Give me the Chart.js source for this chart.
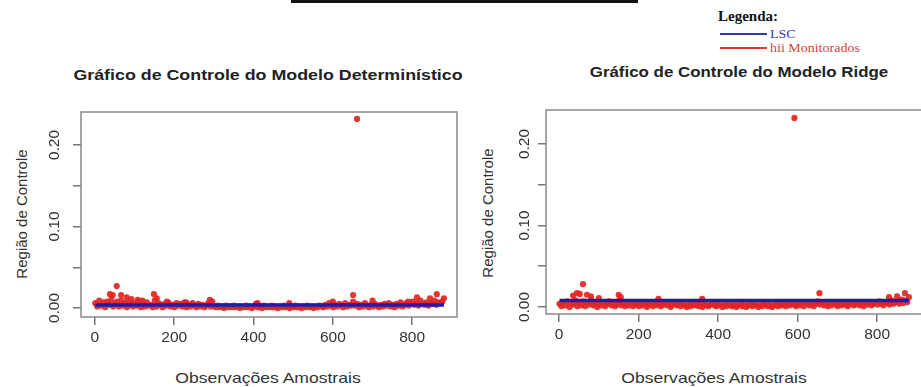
<!DOCTYPE html>
<html>
<head>
<meta charset="utf-8">
<script src="https://cdn.jsdelivr.net/npm/chart.js@4/dist/chart.umd.min.js"></script>
<style>
  body { margin: 0; width: 921px; height: 387px; overflow: hidden; background: #fff; position: relative; font-family: "Liberation Sans", Arial, sans-serif; }
  canvas { position: absolute; top: 0; }
  .txt { position: absolute; white-space: nowrap; color: #222; }
  .title { font-weight: bold; font-size: 15.5px; line-height: 16px; transform: translateX(-50%) scaleX(1.15); }
  .title.narrow { transform: translateX(-50%) scaleX(1.09); }
  .xlab { font-size: 15px; line-height: 16px; transform: translate(-50%, -50%) scaleX(1.17); color: #333; }
  .ylab { font-size: 15px; line-height: 16px; transform: translate(-50%, -50%) rotate(-90deg); color: #333; }
  #topbar { position: absolute; left: 291px; top: 0; width: 347px; height: 3px; background: #111; }
  .lg { position: absolute; white-space: nowrap; font-family: "Liberation Serif", "Times New Roman", serif; }
  .lg.head { left: 718px; top: 8px; font-weight: bold; font-size: 15px; color: #111; }
  .lg.ln { left: 720px; width: 47px; height: 2px; }
  .lg.tx { left: 770px; font-size: 12.5px; line-height: 12px; transform-origin: left center; transform: scaleX(1.12); }
</style>
</head>
<body>
<div id="topbar"></div>
<div class="lg head">Legenda:</div>
<div class="lg ln" style="top:33px; background:#3535c0"></div>
<div class="lg tx" style="top:28px; color:#3b3bb0">LSC</div>
<div class="lg ln" style="top:47px; background:#d83a3a"></div>
<div class="lg tx" style="top:42px; color:#d04545">hii Monitorados</div>

<div class="txt title" style="left:268px; top:67px">Gráfico de Controle do Modelo Determinístico</div>
<div class="txt title narrow" style="left:739px; top:64px">Gráfico de Controle do Modelo Ridge</div>
<div class="txt ylab" style="left:22px; top:214px">Região de Controle</div>
<div class="txt ylab" style="left:488px; top:213px">Região de Controle</div>
<div class="txt xlab" style="left:268px; top:378px">Observações Amostrais</div>
<div class="txt xlab" style="left:714px; top:378px">Observações Amostrais</div>

<canvas id="chartDet" width="470" height="387" style="left:0px"></canvas>
<canvas id="chartRidge" width="466" height="387" style="left:466px"></canvas>

<script>
// observations 1, 6, 11, ... 876 (every 5th) for the dense band
const bandStep = 5;

// hii, modelo deterministico
const detBandHii = [
  0.006, 0.002, 0.009, 0.003, 0.007, 0.001, 0.008, 0.004, 0.010, 0.002,
  0.005, 0.008, 0.002, 0.009, 0.003, 0.006, 0.001, 0.007, 0.004, 0.002,
  0.006, 0.003, 0.008, 0.001, 0.005, 0.002, 0.007, 0.003, 0.004, 0.001,
  0.009, 0.002, 0.006, 0.004, 0.001, 0.005, 0.003, 0.006, 0.002, 0.004,
  0.001, 0.006, 0.003, 0.005, 0.002, 0.007, 0.001, 0.004, 0.002, 0.006,
  0.003, 0.001, 0.005, 0.002, 0.004, 0.001, 0.003, 0.006, 0.002, 0.008,
  0.002, 0.001, 0.003, 0.001, 0.002, 0.000, 0.003, 0.001, 0.002, 0.001,
  0.003, 0.001, 0.002, 0.000, 0.002, 0.001, 0.003, 0.001, 0.002, 0.000,
  0.002, 0.005, 0.001, 0.002, 0.000, 0.003, 0.001, 0.002, 0.001, 0.003,
  0.001, 0.002, 0.000, 0.002, 0.001, 0.003, 0.001, 0.002, 0.000, 0.002,
  0.001, 0.003, 0.001, 0.002, 0.000, 0.002, 0.001, 0.003, 0.001, 0.002,
  0.000, 0.002, 0.001, 0.003, 0.002, 0.001, 0.004, 0.002, 0.006, 0.003,
  0.001, 0.004, 0.002, 0.005, 0.003, 0.001, 0.006, 0.002, 0.004, 0.003,
  0.008, 0.003, 0.005, 0.001, 0.004, 0.002, 0.006, 0.003, 0.001, 0.004,
  0.002, 0.005, 0.003, 0.001, 0.004, 0.002, 0.005, 0.003, 0.006, 0.002,
  0.004, 0.001, 0.005, 0.003, 0.007, 0.002, 0.004, 0.006, 0.003, 0.005,
  0.008, 0.004, 0.006, 0.003, 0.009, 0.005, 0.004, 0.007, 0.003, 0.006,
  0.005, 0.009, 0.004, 0.007, 0.006, 0.008
];
const detSpikeObs = [38, 45, 55, 66, 80, 92, 108, 120, 149, 156, 182, 230, 290, 410, 490, 600, 651, 661, 700, 790, 812, 845, 862, 880];
const detSpikeHii = [0.017, 0.016, 0.027, 0.016, 0.013, 0.011, 0.010, 0.009, 0.017, 0.012, 0.008, 0.007, 0.010, 0.006, 0.006, 0.008, 0.016, 0.232, 0.009, 0.008, 0.013, 0.012, 0.017, 0.012];
const detLSC = 0.0037;

// hii, modelo ridge
const ridgeBandHii = [
  0.004, 0.001, 0.006, 0.002, 0.007, 0.000, 0.005, 0.003, 0.008, 0.001,
  0.006, 0.002, 0.007, 0.001, 0.005, 0.003, 0.008, 0.002, 0.004, 0.000,
  0.005, 0.002, 0.006, 0.001, 0.004, 0.007, 0.002, 0.005, 0.001, 0.003,
  0.008, 0.002, 0.005, 0.001, 0.004, 0.002, 0.006, 0.001, 0.003, 0.005,
  0.001, 0.004, 0.002, 0.006, 0.000, 0.003, 0.005, 0.001, 0.004, 0.002,
  0.005, 0.001, 0.003, 0.006, 0.002, 0.004, 0.000, 0.003, 0.005, 0.002,
  0.003, 0.001, 0.004, 0.002, 0.000, 0.003, 0.001, 0.004, 0.002, 0.005,
  0.001, 0.003, 0.000, 0.004, 0.002, 0.001, 0.003, 0.005, 0.002, 0.001,
  0.004, 0.002, 0.000, 0.003, 0.001, 0.004, 0.002, 0.001, 0.003, 0.000,
  0.002, 0.004, 0.001, 0.003, 0.000, 0.002, 0.004, 0.001, 0.003, 0.002,
  0.000, 0.003, 0.001, 0.004, 0.002, 0.001, 0.003, 0.000, 0.002, 0.004,
  0.001, 0.003, 0.002, 0.005, 0.001, 0.004, 0.002, 0.006, 0.003, 0.001,
  0.004, 0.002, 0.005, 0.001, 0.006, 0.003, 0.002, 0.005, 0.001, 0.004,
  0.007, 0.003, 0.005, 0.002, 0.006, 0.001, 0.004, 0.002, 0.005, 0.003,
  0.001, 0.004, 0.002, 0.005, 0.003, 0.001, 0.004, 0.006, 0.002, 0.003,
  0.005, 0.002, 0.004, 0.001, 0.006, 0.003, 0.005, 0.002, 0.004, 0.006,
  0.003, 0.007, 0.004, 0.002, 0.006, 0.005, 0.003, 0.008, 0.004, 0.006,
  0.007, 0.004, 0.009, 0.005, 0.008, 0.006
];
const ridgeSpikeObs = [35, 45, 52, 60, 70, 80, 100, 150, 155, 250, 360, 592, 655, 830, 850, 870, 880];
const ridgeSpikeHii = [0.014, 0.017, 0.016, 0.028, 0.015, 0.013, 0.011, 0.015, 0.012, 0.010, 0.010, 0.232, 0.017, 0.012, 0.013, 0.017, 0.012];
const ridgeLSC = 0.0080;

const xTickStep = 200;
const yTickStep = 0.05;
const yLabelValues = [0, 0.1, 0.2];
const yTickLabels = ["0.00", "0.10", "0.20"];
const firstObs = 1;
const lastObs = 880;

// moldura do grafico (estilo R)
const boxPlugin = {
  id: "box",
  afterDatasetsDraw(chart) {
    let a = chart.chartArea;
    let ctx = chart.ctx;
    ctx.save();
    ctx.strokeStyle = "#8a8a8a";
    ctx.lineWidth = 1.5;
    ctx.strokeRect(a.left, a.top, a.right - a.left, a.bottom - a.top);
    ctx.restore();
  },
};

// rotulos do eixo y girados, como no R
const yLabelPlugin = {
  id: "rTicks",
  afterDraw(chart, args, opts) {
    let ctx = chart.ctx;
    let scale = chart.scales.y;
    ctx.save();
    ctx.font = "15.5px 'Liberation Sans', Arial, sans-serif";
    ctx.fillStyle = "#333";
    ctx.textAlign = "center";
    ctx.textBaseline = "middle";
    yLabelValues.forEach((v, i) => {
      ctx.save();
      ctx.translate(chart.chartArea.left - opts.offset, scale.getPixelForValue(v));
      ctx.rotate(-Math.PI / 2);
      ctx.fillText(yTickLabels[i], 0, 0);
      ctx.restore();
    });
    ctx.restore();
  },
};

function buildPoints(bandHii, spikeObs, spikeHii) {
  const points = [];
  bandHii.forEach((v, i) => {
    points.push({ x: firstObs + i * bandStep, y: v });
  });
  spikeObs.forEach((o, i) => {
    points.push({ x: o, y: spikeHii[i] });
  });
  return points;
}

function makeChart(id, points, lsc, cfg) {
  let ctx = document.getElementById(id);
  return new Chart(ctx, {
    type: "scatter",
    data: {
      datasets: [
        {
          label: "LSC",
          data: [
            { x: firstObs, y: lsc },
            { x: lastObs, y: lsc },
          ],
          showLine: true,
          borderColor: "#1c1cb4",
          borderWidth: 3.5,
          pointRadius: 0,
          order: 0,
        },
        {
          label: "hii Monitorados",
          data: points,
          backgroundColor: "rgba(228, 36, 36, 0.92)",
          borderWidth: 0,
          pointRadius: 3.1,
          order: 1,
        },
      ],
    },
    options: {
      responsive: false,
      animation: false,
      layout: { padding: { left: 0, right: cfg.padRight, top: cfg.top, bottom: 0 } },
      plugins: {
        legend: { display: false },
        tooltip: { enabled: false },
        rTicks: { offset: cfg.yLabelOffset },
      },
      scales: {
        x: {
          type: "linear",
          min: cfg.xMin,
          max: cfg.xMax,
          border: { display: false },
          grid: { drawOnChartArea: false, tickLength: 8, color: "#777", lineWidth: 1.5 },
          ticks: {
            stepSize: xTickStep,
            includeBounds: false,
            padding: 3,
            color: "#333",
            font: { family: "'Liberation Sans', Arial, sans-serif", size: 15.5 },
          },
          afterFit(scale) {
            scale.height = cfg.xAxisHeight;
          },
        },
        y: {
          type: "linear",
          min: cfg.yMin,
          max: cfg.yMax,
          border: { display: false },
          grid: { drawOnChartArea: false, tickLength: 8, color: "#777", lineWidth: 1.5 },
          ticks: { stepSize: yTickStep, includeBounds: false, display: false },
          afterFit(scale) {
            scale.width = cfg.yAxisWidth;
          },
        },
      },
    },
    plugins: [boxPlugin, yLabelPlugin],
  });
}

makeChart("chartDet", buildPoints(detBandHii, detSpikeObs, detSpikeHii), detLSC, {
  xMin: -35, xMax: 913, yMin: -0.011, yMax: 0.2405,
  top: 112, padRight: 13, yAxisWidth: 81, xAxisHeight: 70, yLabelOffset: 26,
});

makeChart("chartRidge", buildPoints(ridgeBandHii, ridgeSpikeObs, ridgeSpikeHii), ridgeLSC, {
  xMin: -33, xMax: 913, yMin: -0.0086, yMax: 0.2417,
  top: 110, padRight: 10, yAxisWidth: 80, xAxisHeight: 73, yLabelOffset: 21,
});
</script>
</body>
</html>
